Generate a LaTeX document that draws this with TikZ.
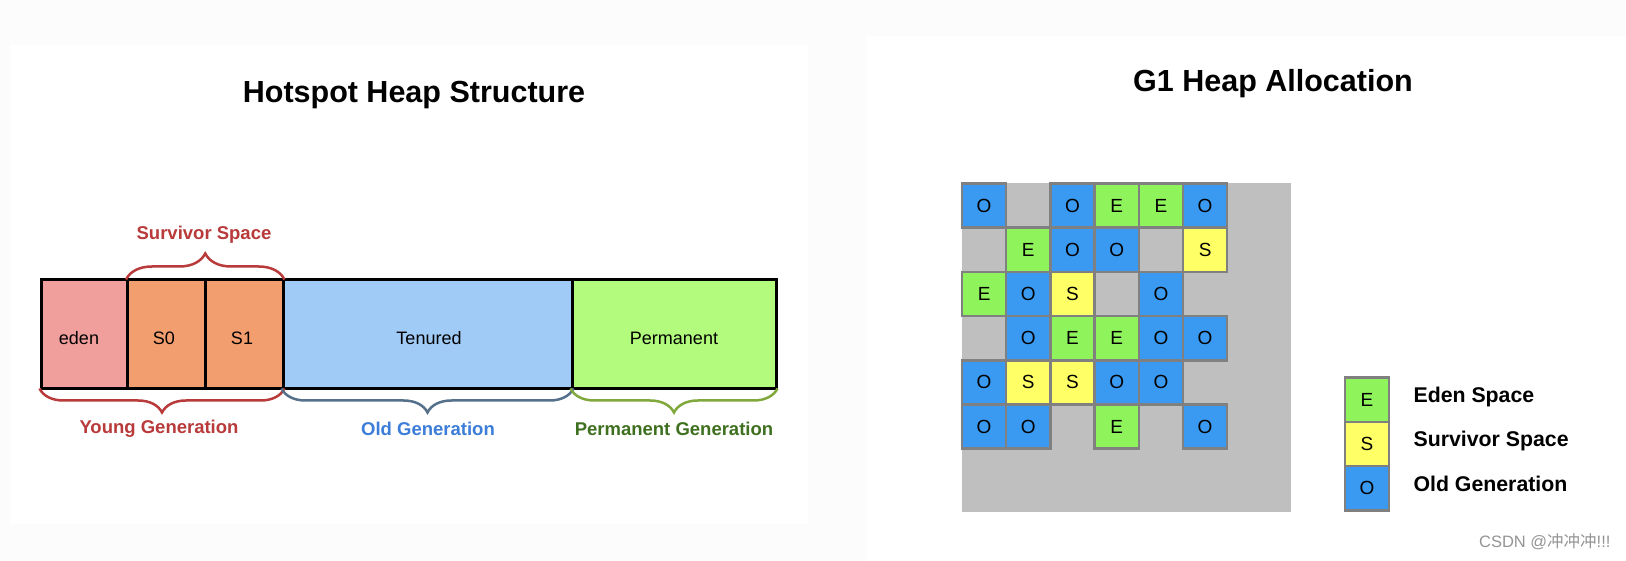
\documentclass[tikz,border=0pt]{standalone}
\usepackage{fontspec}
\setmainfont{Liberation Sans}
\newfontfamily\cjkfont{Noto Sans CJK SC}
\usetikzlibrary{decorations.pathreplacing}
\definecolor{edenC}{HTML}{F19F9D}
\definecolor{survC}{HTML}{F29E6E}
\definecolor{tenC}{HTML}{A1CBF7}
\definecolor{permC}{HTML}{B3FB7C}
\definecolor{gE}{HTML}{8FF35C}
\definecolor{gS}{HTML}{FFFF66}
\definecolor{gO}{HTML}{3A99F0}
\definecolor{gBg}{HTML}{BFBFBF}
\definecolor{gBd}{HTML}{808080}
\definecolor{redC}{HTML}{B83A3A}
\definecolor{oldBr}{HTML}{54708A}
\definecolor{oldTx}{HTML}{3B7DD8}
\definecolor{permBr}{HTML}{80A83C}
\definecolor{permTx}{HTML}{3F7020}
\definecolor{paleBg}{HTML}{FCFCFC}
\tikzset{
  barpart/.style={draw=black, line width=3pt, minimum height=109pt, inner sep=0pt, font=\fontsize{18}{20}\selectfont},
  titletext/.style={font=\bfseries\fontsize{30.5}{34}\selectfont},
  bracelabel/.style={font=\bfseries\fontsize{18.5}{21}\selectfont},
  bracetop/.style={decorate, decoration={brace, amplitude=26pt}, line width=2.5pt},
  bracebot/.style={decorate, decoration={brace, mirror, amplitude=24pt}, line width=2.5pt},
  cell/.style={draw=gBd, line width=2.5pt, minimum size=44.2pt, inner sep=0pt, font=\fontsize{19}{20}\selectfont},
  cellE/.style={cell, fill=gE},
  cellS/.style={cell, fill=gS},
  cellO/.style={cell, fill=gO},
  legtext/.style={anchor=west, font=\bfseries\fontsize{21.3}{23}\selectfont},
}
\begin{document}
\begin{tikzpicture}[x=1pt,y=-1pt]
\useasboundingbox (0,0) rectangle (1626,561);
% backgrounds
\fill[paleBg] (0,0) rectangle (1626,561);
\fill[white] (10,45) rectangle (808,524);
\fill[white] (866,36) rectangle (1626,561);

% ---------- left panel ----------
\node[titletext] (t1) at (414,95) {Hotspot Heap Structure};

\node[barpart, fill=edenC, minimum width=86.5pt] (eden) at (84.25,334.5) {};
\node[barpart, fill=survC, minimum width=77.5pt] (s0) at (166.25,334.5) {};
\node[barpart, fill=survC, minimum width=78pt] (s1) at (244,334.5) {};
\node[barpart, fill=tenC, minimum width=289pt] (ten) at (427.5,334.5) {};
\node[barpart, fill=permC, minimum width=204pt] (perm) at (674,334.5) {};

\node[font=\fontsize{18}{20}\selectfont] (edenL) at (79,338) {eden};
\node[font=\fontsize{18}{20}\selectfont] (s0L) at (164,338) {S0};
\node[font=\fontsize{18}{20}\selectfont] (s1L) at (242,338) {S1};
\node[font=\fontsize{18}{20}\selectfont] (tenL) at (429,338) {Tenured};
\node[font=\fontsize{18}{20}\selectfont] (permL) at (674,338) {Permanent};

\draw[bracetop, draw=redC] ([yshift=-1pt]s0.north west) -- ([yshift=-1pt]s1.north east);
\node[bracelabel, text=redC] (survL) at (204,235) {Survivor Space};

\draw[bracebot, draw=redC] ([yshift=2pt]eden.south west) -- ([yshift=2pt]s1.south east);
\draw[bracebot, draw=oldBr] ([yshift=2pt]ten.south west) -- ([yshift=2pt]ten.south east);
\draw[bracebot, draw=permBr] ([yshift=2pt]perm.south west) -- ([yshift=2pt]perm.south east);
\node[bracelabel, text=redC] (youngL) at (159,428.5) {Young Generation};
\node[bracelabel, text=oldTx] (oldL) at (428,428.5) {Old Generation};
\node[bracelabel, text=permTx] (permGL) at (674,428.5) {Permanent Generation};

% ---------- right panel ----------
\node[titletext] (t2) at (1273,84) {G1 Heap Allocation};
\fill[gBg] (962,183.5) rectangle (1291,512);
\foreach \c/\r/\k in {0/0/O,2/0/O,3/0/E,4/0/E,5/0/O,
                      1/1/E,2/1/O,3/1/O,5/1/S,
                      0/2/E,1/2/O,2/2/S,4/2/O,
                      1/3/O,2/3/E,3/3/E,4/3/O,5/3/O,
                      0/4/O,1/4/S,2/4/S,3/4/O,4/4/O,
                      0/5/O,1/5/O,3/5/E,5/5/O}{
  \node[cell\k] (c-\c-\r) at ({962+44.2*\c+22.1},{183.5+44.2*\r+22.1}) {\k};
}

% legend
\node[cellE] (legE) at (1367,399.8) {E};
\node[cellS] (legS) at (1367,444) {S};
\node[cellO] (legO) at (1367,488.2) {O};
\node[legtext] (legEL) at (1410,396.5) {Eden Space};
\node[legtext] (legSL) at (1410,440.5) {Survivor Space};
\node[legtext] (legOL) at (1410,483.5) {Old Generation};

% watermark
\node[anchor=east, text=black!42, font=\fontsize{16.5}{18}\selectfont] (wm) at (1614,542) {CSDN @{\cjkfont 冲冲冲}!!!};
\end{tikzpicture}
\end{document}
